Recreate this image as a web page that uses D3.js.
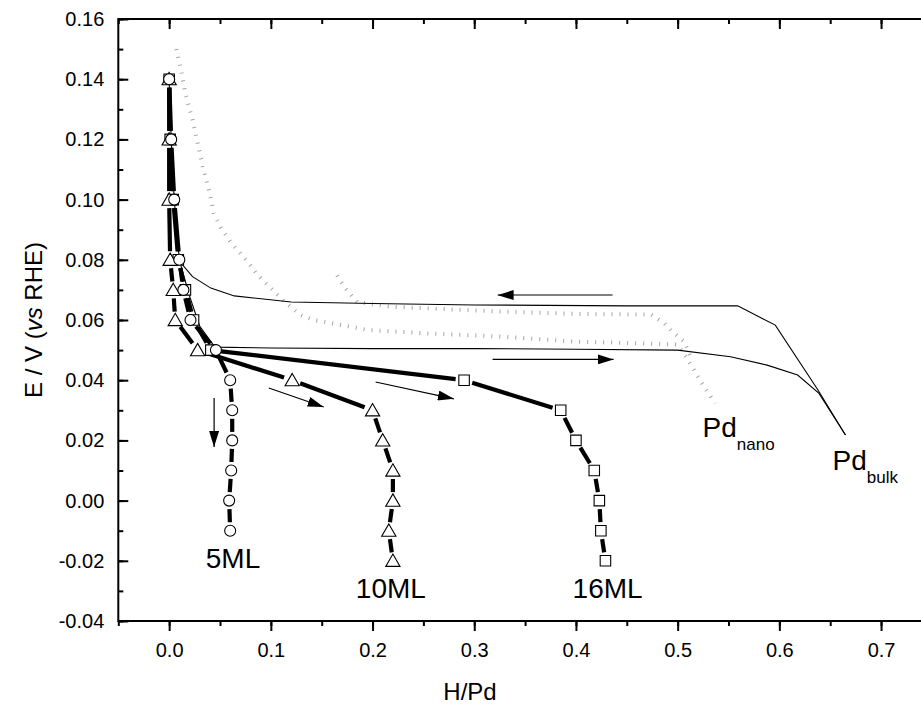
<!DOCTYPE html>
<html><head><meta charset="utf-8">
<script src="https://cdn.jsdelivr.net/npm/d3@7"></script>
<style>
body{margin:0;background:#fff;}
svg{display:block;font-family:Arial,"Liberation Sans",sans-serif;}
</style></head>
<body><svg id="c" width="921" height="707"></svg>
<script>
// ---- data ----
const e10 = [0.14,0.12,0.10,0.08,0.07,0.06,0.05,0.04,0.03,0.02,0.01,0.00,-0.01,-0.02];
const e5  = [0.14,0.12,0.10,0.08,0.07,0.06,0.05,0.04,0.03,0.02,0.01,0.00,-0.01];
const h5  = [0.000,0.002,0.005,0.010,0.014,0.021,0.046,0.060,0.062,0.062,0.061,0.059,0.060];
const h10 = [0.000,0.000,0.000,0.001,0.004,0.006,0.028,0.121,0.200,0.210,0.220,0.220,0.216,0.220];
const h16 = [0.000,0.001,0.004,0.009,0.016,0.024,0.041,0.290,0.385,0.400,0.418,0.423,0.4245,0.429];
const e16 = e10;

const bulkAbsH = [0.000,0.002,0.005,0.010,0.020,0.030,0.045,0.10,0.20,0.30,0.40,0.50,0.552,0.588,0.618,0.639,0.665];
const bulkAbsE = [0.140,0.120,0.100,0.080,0.068,0.058,0.0510,0.0507,0.0505,0.0505,0.0503,0.0500,0.0478,0.0450,0.0417,0.0356,0.0218];
const bulkDesH = [0.665,0.6375,0.596,0.559,0.45,0.30,0.20,0.12,0.064,0.041,0.023,0.0115,0.008];
const bulkDesE = [0.0218,0.037,0.0583,0.0647,0.0647,0.0650,0.0655,0.0660,0.0680,0.0706,0.0744,0.079,0.080];

const nanoAbsH = [0.007,0.012,0.016,0.023,0.028,0.033,0.040,0.044,0.051,0.061,0.074,0.087,0.100,0.115,0.129,0.142,0.159,0.195,0.25,0.326,0.40,0.47,0.50,0.505,0.515,0.526,0.537];
const nanoAbsE = [0.150,0.1425,0.135,0.1265,0.119,0.111,0.102,0.0954,0.0906,0.0856,0.0806,0.075,0.0706,0.0656,0.0617,0.0600,0.0590,0.0567,0.0556,0.0545,0.0528,0.0522,0.0518,0.0495,0.0440,0.0378,0.0323];
const nanoDesH = [0.512,0.5065,0.495,0.487,0.474,0.40,0.326,0.218,0.185,0.172,0.164];
const nanoDesE = [0.0484,0.0528,0.0560,0.0589,0.0618,0.0620,0.0628,0.0644,0.0660,0.0710,0.0755];

const xTicks = [0.0,0.1,0.2,0.3,0.4,0.5,0.6,0.7];
const yTicks = [-0.04,-0.02,0.00,0.02,0.04,0.06,0.08,0.10,0.12,0.14,0.16];

// arrows [x1,y1,x2,y2] in data units
const arrows = [
  [0.0442,0.0341,0.0442,0.0178],
  [0.098,0.0374,0.152,0.0311],
  [0.203,0.0394,0.280,0.0338],
  [0.318,0.0469,0.437,0.0469],
  [0.436,0.0683,0.323,0.0683]
];
const labels = [
  {t:"5ML",  x:0.036, y:-0.0224},
  {t:"10ML", x:0.1836,y:-0.0324},
  {t:"16ML", x:0.3967,y:-0.0324}
];
const subLabels = [
  {t:"Pd", s:"nano", x:0.5245, y:0.0212},
  {t:"Pd", s:"bulk", x:0.6523, y:0.0102}
];

// ---- chart ----
const svg = d3.select("#c");
const x = d3.scaleLinear().domain([-0.05,0.75]).range([118.3,931.9]);
const y = d3.scaleLinear().domain([-0.04,0.16]).range([621,19]);
const X0=118.3, X1=931.9, Y0=621, Y1=19;

const hy = f => v => f(v).replace("\u2212","-");
const fmt2 = hy(d3.format(".2f")), fmt1 = hy(d3.format(".1f"));
const minorX = d3.range(-0.05,0.751,0.05).map(v=>+v.toFixed(3));
const minorY = d3.range(-0.04,0.1601,0.01).map(v=>+v.toFixed(3));

function styleAxis(g){
  g.select(".domain").remove();
  g.selectAll("line").attr("stroke","#000").attr("stroke-width",2);
  g.selectAll("text").attr("font-size",20).attr("fill","#000").attr("font-family","Arial, 'Liberation Sans', sans-serif");
}
// left
svg.append("g").attr("transform",`translate(${X0},0)`)
  .call(d3.axisLeft(y).tickValues(minorY).tickSize(-5).tickFormat("")).call(styleAxis);
svg.append("g").attr("transform",`translate(${X0},0)`)
  .call(d3.axisLeft(y).tickValues(yTicks).tickSize(-10).tickPadding(14).tickFormat(fmt2)).call(styleAxis);
// right
svg.append("g").attr("transform",`translate(${X1},0)`)
  .call(d3.axisRight(y).tickValues(minorY).tickSize(-5).tickFormat("")).call(styleAxis);
svg.append("g").attr("transform",`translate(${X1},0)`)
  .call(d3.axisRight(y).tickValues(yTicks).tickSize(-10).tickFormat("")).call(styleAxis);
// bottom
svg.append("g").attr("transform",`translate(0,${Y0})`)
  .call(d3.axisBottom(x).tickValues(minorX).tickSize(5).tickFormat("")).call(styleAxis);
svg.append("g").attr("transform",`translate(0,${Y0})`)
  .call(d3.axisBottom(x).tickValues(xTicks).tickSize(10).tickPadding(12).tickFormat(fmt1)).call(styleAxis);
// top
svg.append("g").attr("transform",`translate(0,${Y1})`)
  .call(d3.axisTop(x).tickValues(minorX).tickSize(-5).tickFormat("")).call(styleAxis);
svg.append("g").attr("transform",`translate(0,${Y1})`)
  .call(d3.axisTop(x).tickValues(xTicks).tickSize(-10).tickFormat("")).call(styleAxis);
// frame lines
svg.append("rect").attr("x",X0).attr("y",Y1).attr("width",X1-X0).attr("height",Y0-Y1)
  .attr("fill","none").attr("stroke","#000").attr("stroke-width",2);

// axis titles
svg.append("text").attr("x",470).attr("y",700).attr("text-anchor","middle")
  .attr("font-size",24).text("H/Pd");
const yt = svg.append("text").attr("transform","translate(42,320) rotate(-90)")
  .attr("text-anchor","middle").attr("font-size",24);
yt.append("tspan").text("E / V (");
yt.append("tspan").attr("font-style","italic").text("vs");
yt.append("tspan").text(" RHE)");

const plot = svg.append("g");
const zip = (hs,es)=>hs.map((h,i)=>[h,es[i]]);
const line = d3.line().x(d=>x(d[0])).y(d=>y(d[1]));

// Pd nano (grey dotted)
[[nanoAbsH,nanoAbsE],[nanoDesH,nanoDesE]].forEach(([h,e])=>{
  plot.append("path").attr("d",line(zip(h,e))).attr("fill","none")
    .attr("stroke","#a4a4a4").attr("stroke-width",4).attr("stroke-dasharray","1,7");
});
// Pd bulk (thin)
[[bulkAbsH,bulkAbsE],[bulkDesH,bulkDesE]].forEach(([h,e])=>{
  plot.append("path").attr("d",line(zip(h,e))).attr("fill","none")
    .attr("stroke","#000").attr("stroke-width",1.1);
});

// arrows
svg.append("defs").append("marker").attr("id","ah").attr("viewBox","0 0 16 10")
  .attr("refX",16).attr("refY",5).attr("markerWidth",16).attr("markerHeight",10)
  .attr("markerUnits","userSpaceOnUse").attr("orient","auto")
  .append("path").attr("d","M0,0 L16,5 L0,10 Z").attr("fill","#000");
arrows.forEach(a=>{
  plot.append("line").attr("x1",x(a[0])).attr("y1",y(a[1])).attr("x2",x(a[2])).attr("y2",y(a[3]))
    .attr("stroke","#000").attr("stroke-width",1.2).attr("marker-end","url(#ah)");
});

// series: thick segments with gaps at markers
const series = [
  {h:h16,e:e16,sym:d3.symbolSquare,size:110},
  {h:h10,e:e10,sym:d3.symbolTriangle,size:88},
  {h:h5, e:e5, sym:d3.symbolCircle,size:95}
];
const gap = 8.5;
series.forEach(s=>{
  const pts = zip(s.h,s.e).map(d=>[x(d[0]),y(d[1])]);
  for(let i=0;i<pts.length-1;i++){
    const [ax,ay]=pts[i],[bx,by]=pts[i+1];
    const L=Math.hypot(bx-ax,by-ay);
    if(L<=2*gap+1) continue;
    const ux=(bx-ax)/L, uy=(by-ay)/L;
    plot.append("line").attr("x1",ax+ux*gap).attr("y1",ay+uy*gap)
      .attr("x2",bx-ux*gap).attr("y2",by-uy*gap)
      .attr("stroke","#000").attr("stroke-width",4.2);
  }
});
series.forEach(s=>{
  plot.selectAll(null).data(zip(s.h,s.e)).enter().append("path")
    .attr("transform",d=>`translate(${x(d[0])},${y(d[1]) + (s.sym===d3.symbolTriangle?1.5:0)})`)
    .attr("d",d3.symbol().type(s.sym).size(s.size))
    .attr("fill","#fff").attr("stroke","#000").attr("stroke-width",1.1);
});

// labels
labels.forEach(l=>{
  svg.append("text").attr("x",x(l.x)).attr("y",y(l.y)).attr("font-size",28).text(l.t);
});
subLabels.forEach(l=>{
  const t=svg.append("text").attr("x",x(l.x)).attr("y",y(l.y)).attr("font-size",28);
  t.append("tspan").text(l.t);
  t.append("tspan").attr("font-size",17).attr("dy",13).text(l.s);
});
</script></body></html>
